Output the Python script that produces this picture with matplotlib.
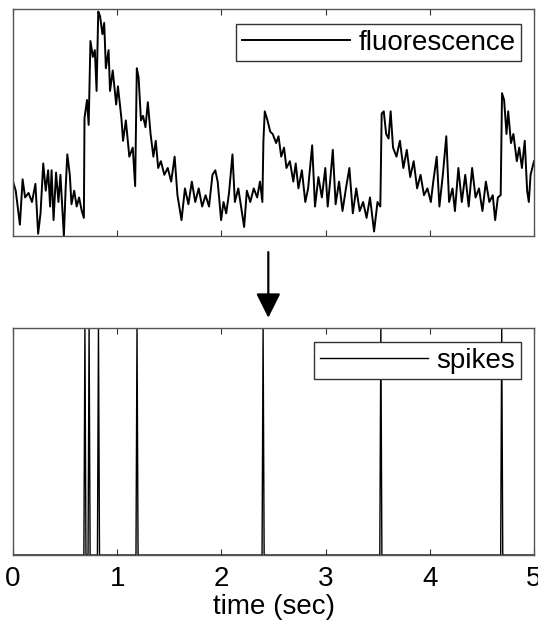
import numpy as np
import matplotlib
matplotlib.use('Agg')
import matplotlib.pyplot as plt

plt.rcParams['font.family'] = ['Liberation Sans', 'DejaVu Sans']

# fluorescence trace (a.u.)
fluor_t = [
    0.000, 0.026, 0.066, 0.092, 0.116, 0.149, 0.182, 0.215, 0.241, 0.264,
    0.290, 0.314, 0.337, 0.356, 0.370, 0.389, 0.413, 0.436, 0.455, 0.488,
    0.505, 0.521, 0.545, 0.561, 0.587, 0.611, 0.634, 0.660, 0.680, 0.686,
    0.710, 0.726, 0.743, 0.766, 0.785, 0.802, 0.818, 0.835, 0.858, 0.875,
    0.891, 0.917, 0.931, 0.957, 0.990, 1.007, 1.040, 1.056, 1.083, 1.116,
    1.149, 1.172, 1.188, 1.205, 1.228, 1.248, 1.271, 1.294, 1.320, 1.347,
    1.370, 1.393, 1.419, 1.452, 1.485, 1.518, 1.551, 1.578, 1.617, 1.650,
    1.683, 1.716, 1.749, 1.782, 1.815, 1.848, 1.881, 1.914, 1.941, 1.964,
    1.997, 2.020, 2.046, 2.073, 2.106, 2.129, 2.162, 2.195, 2.218, 2.244,
    2.277, 2.310, 2.343, 2.370, 2.393, 2.403, 2.416, 2.442, 2.469, 2.492,
    2.525, 2.548, 2.574, 2.601, 2.624, 2.657, 2.690, 2.713, 2.739, 2.772,
    2.805, 2.832, 2.871, 2.898, 2.931, 2.964, 2.997, 3.020, 3.043, 3.069,
    3.096, 3.129, 3.162, 3.195, 3.228, 3.261, 3.294, 3.327, 3.360, 3.393,
    3.426, 3.465, 3.498, 3.525, 3.538, 3.558, 3.581, 3.604, 3.624, 3.647,
    3.680, 3.713, 3.746, 3.779, 3.812, 3.845, 3.878, 3.911, 3.944, 3.977,
    4.010, 4.033, 4.066, 4.092, 4.125, 4.158, 4.185, 4.218, 4.241, 4.274,
    4.307, 4.340, 4.373, 4.406, 4.439, 4.472, 4.505, 4.538, 4.571, 4.604,
    4.627, 4.653, 4.680, 4.693, 4.713, 4.736, 4.752, 4.779, 4.802, 4.835,
    4.858, 4.884, 4.911, 4.934, 4.950, 4.967, 5.000,
]
fluor_val = [
    24, 20, 5, 25, 17, 19, 15, 23, 1, 10,
    32, 20, 29, 13, 29, 7, 28, 15, 27, 0,
    21, 36, 27, 14, 20, 13, 17, 11, 8, 52,
    60, 49, 86, 79, 82, 64, 99, 97, 89, 94,
    74, 82, 64, 73, 58, 66, 52, 42, 51, 35,
    39, 22, 74, 70, 51, 53, 48, 59, 45, 35,
    42, 30, 33, 27, 30, 24, 35, 18, 7, 21,
    14, 24, 15, 21, 13, 18, 13, 27, 29, 24,
    7, 15, 10, 19, 36, 15, 21, 11, 4, 20,
    15, 21, 17, 24, 15, 42, 55, 51, 46, 45,
    41, 44, 35, 39, 30, 33, 24, 32, 21, 29,
    15, 21, 40, 13, 26, 17, 30, 13, 24, 38,
    14, 24, 11, 21, 30, 10, 21, 11, 15, 8,
    17, 2, 15, 13, 54, 55, 45, 43, 55, 39,
    35, 42, 30, 38, 26, 33, 21, 27, 18, 21,
    15, 24, 35, 13, 27, 44, 15, 21, 11, 30,
    15, 27, 13, 30, 17, 21, 11, 24, 15, 18,
    7, 17, 18, 63, 60, 45, 55, 41, 45, 33,
    39, 30, 42, 20, 15, 27, 33,
]

# inferred spike times (sec)
spike_times = [0.69, 0.73, 0.82, 1.19, 2.40, 3.53, 4.69]
dt = 0.01

spike_t = np.arange(0, 5 + dt / 2, dt)
spikes = np.zeros_like(spike_t)
spikes[np.round(np.array(spike_times) / dt).astype(int)] = 1

fig = plt.figure(figsize=(5.38, 6.29), dpi=100)
ax1 = fig.add_axes([0.0242, 0.6248, 0.9684, 0.3604])
ax2 = fig.add_axes([0.0242, 0.1176, 0.9684, 0.3613])

frame_col = '#555555'
for ax in (ax1, ax2):
    for sp in ax.spines.values():
        sp.set_color(frame_col)
        sp.set_linewidth(1.0)
    ax.set_xlim(0, 5)
    ax.set_xticks([0, 1, 2, 3, 4, 5])
    ax.set_yticks([])
    ax.tick_params(axis='x', direction='in', top=True, length=4, width=0.8,
                   color='#333333', labelsize=20, pad=8)

leg_style = dict(loc='upper right', fontsize=20, frameon=True, fancybox=False,
                 framealpha=1, edgecolor='#333333', borderpad=0.2,
                 handlelength=3.9, handletextpad=0.3, borderaxespad=0)

ax1.plot(fluor_t, fluor_val, color='black', lw=1.4, label='fluorescence')
ax1.set_ylim(0, 100)
ax1.tick_params(axis='x', labelbottom=False)
ax1.legend(bbox_to_anchor=(0.975, 0.935), **leg_style)

ax2.plot(spike_t, spikes, color='black', lw=1.0, label='spikes')
ax2.set_ylim(0, 1)
ax2.set_xlabel('time (sec)', fontsize=20, labelpad=1)
ax2.legend(bbox_to_anchor=(0.975, 0.937), **leg_style)

# arrow between the panels
ax2.annotate('', xy=(2.45, 1.044), xycoords=('data', 'axes fraction'),
             xytext=(2.45, 1.333), textcoords=('data', 'axes fraction'),
             arrowprops=dict(arrowstyle='-|>,head_length=1.0,head_width=0.5',
                             mutation_scale=15, lw=1.6, color='black',
                             shrinkA=0, shrinkB=0),
             annotation_clip=False)

fig.savefig('out.png', dpi=100)
